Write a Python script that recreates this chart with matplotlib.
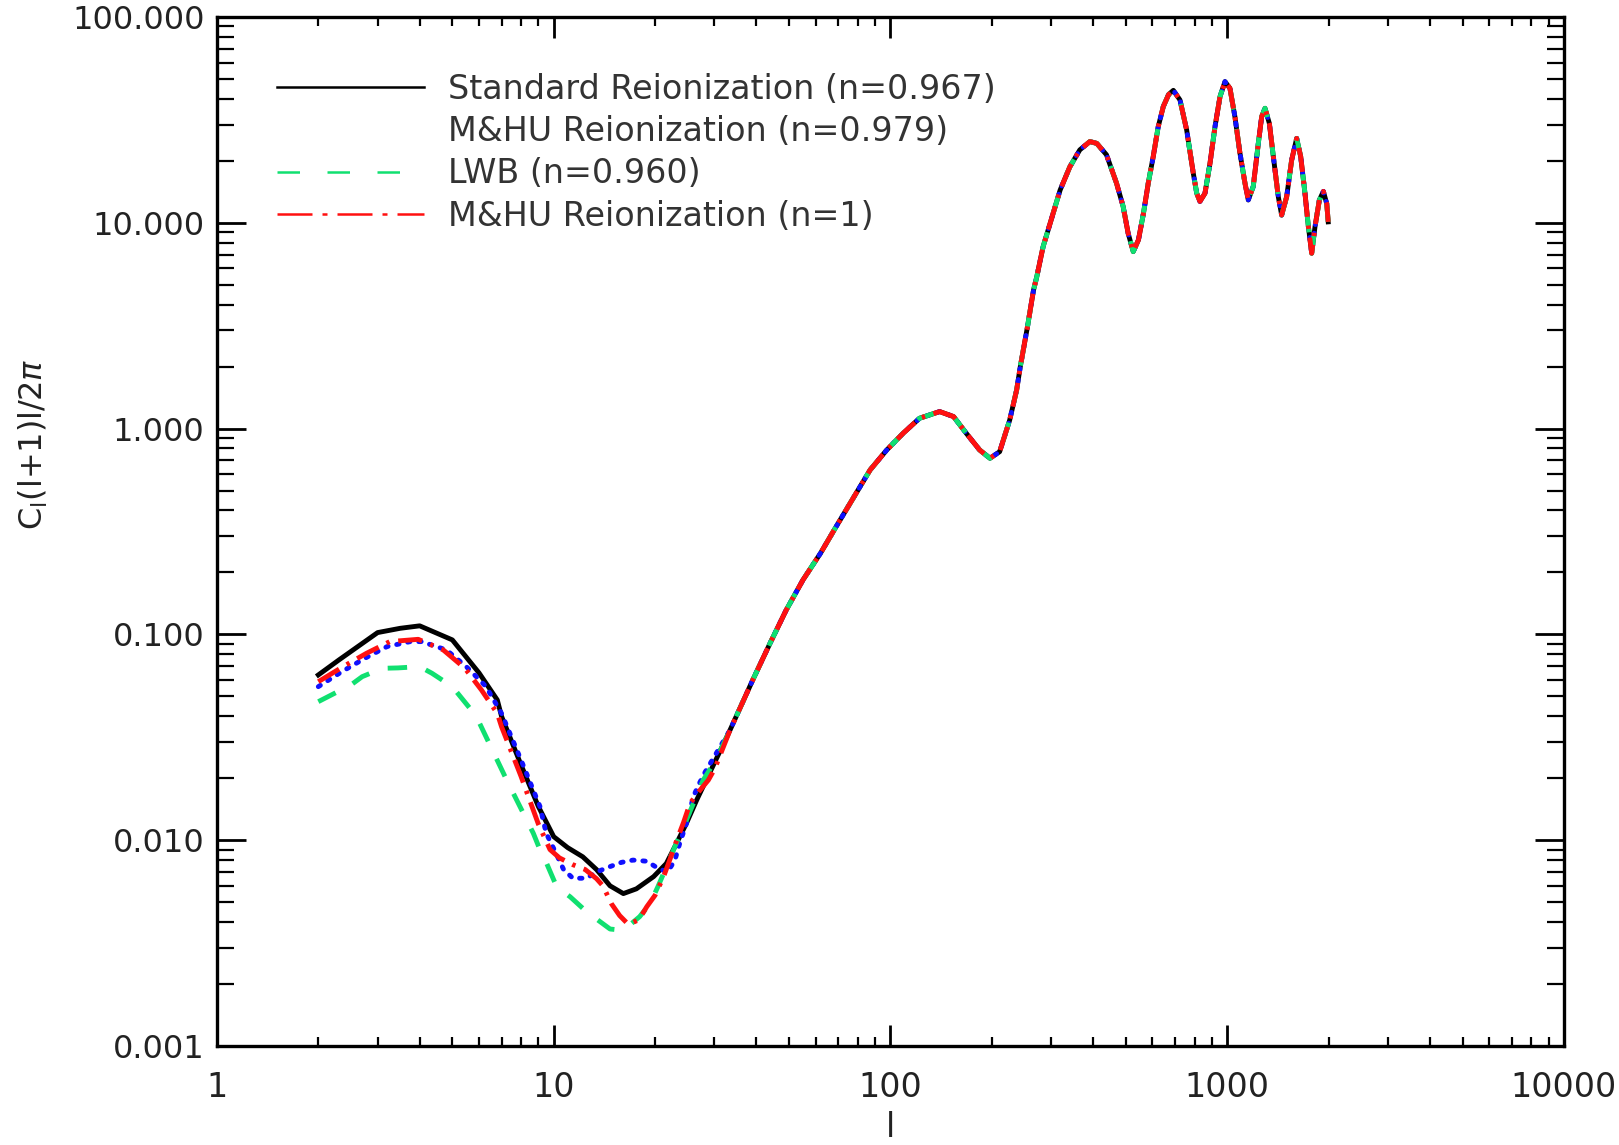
import numpy as np
import matplotlib
matplotlib.use("Agg")
from matplotlib import pyplot as plt
from matplotlib.lines import Line2D
from matplotlib.ticker import FixedLocator, LogLocator, NullFormatter

# low-l part of each model
l_std = [2, 2.3, 3, 3.5, 4, 5, 6, 6.8, 7, 8, 9, 10, 11, 12.2, 13.4, 14.7, 16.1,
         17.6, 19.8, 21.6, 23.2, 24.8, 26.6, 29]
c_std = [0.0635, 0.075, 0.102, 0.107, 0.110, 0.094, 0.065, 0.048, 0.040, 0.0232,
         0.0146, 0.0104, 0.0092, 0.0083, 0.0072, 0.0060, 0.0055, 0.0058, 0.00665,
         0.0077, 0.0097, 0.0121, 0.0157, 0.0211]

l_mhu = [2, 2.35, 2.75, 3.2, 3.75, 4.05, 4.8, 5.5, 6.3, 6.55, 7, 8, 9.1, 9.5, 10,
         10.7, 11.4, 12.5, 13.4, 14.7, 15.9, 17.2, 18.9, 20.4, 21.8, 22.9, 23.7,
         24.8, 26, 26.9, 28.2]
c_mhu = [0.0557, 0.0659, 0.0765, 0.0872, 0.0922, 0.0922, 0.084, 0.0697, 0.0557,
         0.0498, 0.0413, 0.0245, 0.0146, 0.0108, 0.0091, 0.0072, 0.00653, 0.00653,
         0.0070, 0.00744, 0.0078, 0.0080, 0.0079, 0.0073, 0.0070, 0.0080, 0.0097,
         0.0121, 0.0163, 0.0185, 0.0215]

l_lwb = [2, 2.5, 2.7, 3.1, 3.45, 4, 4.35, 5, 5.8, 6, 7.25, 8.7, 9.1, 9.5, 10.2,
         11.2, 12.5, 13.5, 14.7, 15.7, 16.6, 18, 19.3, 20.4, 21.6, 22.9, 24.3, 26,
         27.8, 30.3]
c_lwb = [0.0471, 0.0568, 0.0623, 0.0684, 0.0687, 0.0697, 0.0647, 0.0557, 0.0413,
         0.0375, 0.0196, 0.0108, 0.0090, 0.0078, 0.00595, 0.0053, 0.0045, 0.0041,
         0.0037, 0.00366, 0.0038, 0.00425, 0.0049, 0.00595, 0.0074, 0.0093, 0.0116,
         0.0151, 0.0196, 0.0245]

l_mhu1 = [2, 2.37, 2.78, 3.26, 3.96, 4.7, 5.45, 6.1, 6.8, 7, 8, 9, 9.75, 10.4,
          11.4, 12.4, 13.4, 14.0, 14.85, 15.7, 16.65, 17.9, 18.9, 20, 21.2, 22.1,
          23.2, 24.3, 25.4, 27.2, 28.8, 30.1]
c_mhu1 = [0.0589, 0.0697, 0.0809, 0.0922, 0.0946, 0.084, 0.0684, 0.0537, 0.0413,
          0.0356, 0.0204, 0.0120, 0.0090, 0.0082, 0.0076, 0.0072, 0.0065, 0.0060,
          0.0049, 0.0043, 0.0039, 0.0041, 0.00475, 0.0054, 0.00665, 0.0080, 0.0100,
          0.0122, 0.0151, 0.0175, 0.0196, 0.0223]

# l > 30: all four models lie on top of each other
l_hi = [33.4, 39, 43.9, 49, 55, 62, 69, 78, 87, 97.5, 109, 122, 140, 154, 168, 184,
        197.5, 211, 226, 237, 243, 255, 266, 272, 284, 298, 319, 341, 365, 391, 410,
        438, 469, 491, 508, 526, 545, 564, 583, 603, 624, 646, 670, 692, 724, 758,
        793, 812, 830, 859, 889, 920, 952, 985, 1019, 1054, 1091, 1129, 1155, 1195,
        1237, 1266, 1295, 1334, 1371, 1418, 1451, 1502, 1554, 1608, 1653, 1702,
        1742, 1782, 1823, 1878, 1930, 1975, 1995]
c_hi = [0.0343, 0.060, 0.0905, 0.131, 0.184, 0.248, 0.334, 0.467, 0.629, 0.787,
        0.948, 1.122, 1.209, 1.143, 0.948, 0.787, 0.717, 0.772, 1.10, 1.54, 2.0,
        3.1, 4.71, 5.47, 7.65, 9.94, 14.4, 18.7, 22.6, 24.8, 24.3, 21.4, 15.6,
        11.98, 8.89, 7.24, 8.25, 11.1, 15.6, 20.96, 29.3, 36.7, 42.0, 44.0, 39.5,
        28.2, 17.4, 13.9, 12.7, 13.9, 19.45, 29.3, 41.0, 48.5, 45.0, 32.8, 21.8,
        15.6, 12.9, 15.0, 24.3, 32.8, 36.0, 30.4, 20.96, 13.4, 10.9, 13.4, 20.2,
        25.7, 20.96, 13.9, 9.58, 7.11, 9.58, 12.9, 14.2, 12.4, 10.1]

labels = ["Standard Reionization (n=0.967)", "M&HU Reionization (n=0.979)",
          "LWB (n=0.960)", "M&HU Reionization (n=1)"]

fig = plt.figure(figsize=(16.19, 11.45), dpi=100)
ax = fig.add_axes([0.134, 0.0865, 0.832, 0.8987])

lw = 3.5
ax.plot(l_std + l_hi, c_std + c_hi, color="black", lw=lw, solid_joinstyle="round")
ax.plot(l_mhu + l_hi, c_mhu + c_hi, color="#1010ff", lw=lw, dashes=(0.5, 1.8),
        dash_capstyle="round")
ax.plot(l_lwb + l_hi, c_lwb + c_hi, color="#10e070", lw=lw, dashes=(4, 4))
ax.plot(l_mhu1 + l_hi, c_mhu1 + c_hi, color="#ff1010", lw=lw,
        dashes=(5, 1.8, 0.7, 1.8))

ax.set_xscale("log")
ax.set_yscale("log")
ax.set_xlim(1, 10000)
ax.set_ylim(0.001, 100)

ax.xaxis.set_major_locator(FixedLocator([1, 10, 100, 1000, 10000]))
ax.set_xticklabels(["1", "10", "100", "1000", "10000"])
ax.yaxis.set_major_locator(FixedLocator([0.001, 0.01, 0.1, 1, 10, 100]))
ax.set_yticklabels(["0.001", "0.010", "0.100", "1.000", "10.000", "100.000"])
ax.xaxis.set_minor_locator(LogLocator(base=10, subs=np.arange(2, 10), numticks=20))
ax.yaxis.set_minor_locator(LogLocator(base=10, subs=np.arange(2, 10), numticks=20))
ax.xaxis.set_minor_formatter(NullFormatter())
ax.yaxis.set_minor_formatter(NullFormatter())

for s in ax.spines.values():
    s.set_linewidth(2.4)
ax.tick_params(axis="x", which="major", direction="in", top=True, length=15,
               width=2, pad=18, labelsize=24, labelcolor="#222222")
ax.tick_params(axis="x", which="minor", direction="in", top=True, length=6.5,
               width=1.6)
ax.tick_params(axis="y", which="major", direction="in", right=True, length=21,
               width=2, pad=9, labelsize=23, labelcolor="#222222")
ax.tick_params(axis="y", which="minor", direction="in", right=True, length=12,
               width=1.6)

ax.set_xlabel("l", fontsize=24, color="#222222", labelpad=5)
ax.set_ylabel(r"C$_\mathregular{l}$(l+1)l/2$\pi$", fontsize=23, color="#222222")
ax.yaxis.set_label_coords(-0.124, 0.585)

handles = [Line2D([], [], color="black", lw=1.8),
           Line2D([], [], color="none", lw=1.8),
           Line2D([], [], color="#10e070", lw=1.8, dashes=(9, 11)),
           Line2D([], [], color="#ff1010", lw=1.8, dashes=(14, 4, 2, 4))]
leg = ax.legend(handles, labels, loc="upper left", bbox_to_anchor=(0.0445, 0.946),
                frameon=False, fontsize=24, handlelength=4.4, handletextpad=0.72,
                borderpad=0, borderaxespad=0, labelspacing=0.28)
for t in leg.get_texts():
    t.set_color("#333333")

fig.savefig("out.png", dpi=100)
